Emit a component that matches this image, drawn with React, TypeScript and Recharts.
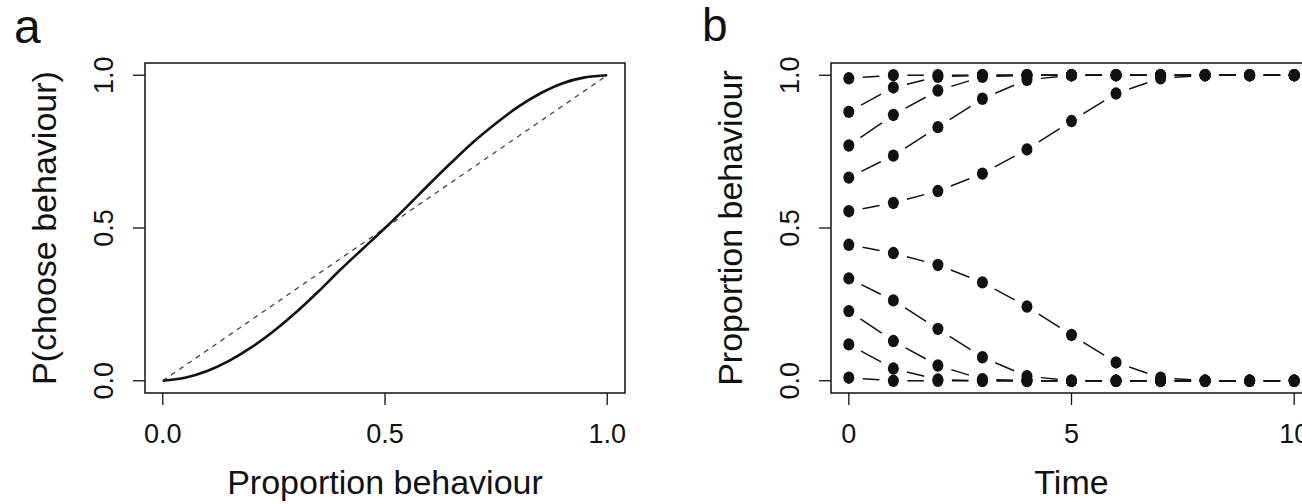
import React from 'react';
import { ComposedChart, Line, Scatter, XAxis, YAxis, ReferenceArea, Label } from 'recharts';

const FONT = "'Liberation Sans', Arial, Helvetica, sans-serif";

// panel a: conformist choice curve
const propX = [0, 0.05, 0.1, 0.15, 0.2, 0.25, 0.3, 0.35, 0.4, 0.45, 0.5, 0.55, 0.6, 0.65, 0.7, 0.75, 0.8, 0.85, 0.9, 0.95, 1];
const chooseP = [0, 0.01, 0.032, 0.066, 0.11, 0.163, 0.224, 0.292, 0.364, 0.432, 0.5, 0.571, 0.644, 0.715, 0.783, 0.843, 0.897, 0.941, 0.974, 0.993, 1];
const diagX = [0, 1];
const diagY = [0, 1];
const unitTicks = [0, 0.5, 1];

// panel b: trajectories over time
const timeSteps = [0, 1, 2, 3, 4, 5, 6, 7, 8, 9, 10];
const timeTicks = [0, 5, 10];
const run1 = [0.99, 1, 1, 1, 1, 1, 1, 1, 1, 1, 1];
const run2 = [0.88, 0.96, 0.995, 1, 1, 1, 1, 1, 1, 1, 1];
const run3 = [0.77, 0.87, 0.95, 0.995, 1, 1, 1, 1, 1, 1, 1];
const run4 = [0.665, 0.737, 0.83, 0.923, 0.985, 1, 1, 1, 1, 1, 1];
const run5 = [0.555, 0.582, 0.621, 0.678, 0.757, 0.85, 0.94, 0.99, 1, 1, 1];
const run6 = [0.445, 0.418, 0.379, 0.322, 0.243, 0.15, 0.06, 0.01, 0, 0, 0];
const run7 = [0.335, 0.263, 0.17, 0.077, 0.015, 0, 0, 0, 0, 0, 0];
const run8 = [0.228, 0.13, 0.05, 0.005, 0, 0, 0, 0, 0, 0, 0];
const run9 = [0.119, 0.04, 0.004, 0, 0, 0, 0, 0, 0, 0, 0];
const run10 = [0.01, 0, 0, 0, 0, 0, 0, 0, 0, 0, 0];
const runs = [run1, run2, run3, run4, run5, run6, run7, run8, run9, run10];

const curveData = propX.map((x, i) => ({ x, y: chooseP[i] }));
const diagData = diagX.map((x, i) => ({ x, y: diagY[i] }));
const runData = runs.map((r) => timeSteps.map((t, i) => ({ t, v: r[i] })));

const INK = '#111';
const GAP = 14;

const XTick = (props: any) => {
  const { x, y, payload, fmt } = props;
  return (
    <text x={x} y={y + 38} textAnchor="middle" fontSize={27} fill={INK} fontFamily={FONT}>
      {fmt(payload.value)}
    </text>
  );
};

const YTick = (props: any) => {
  const { x, y, payload } = props;
  const bx = x - 20;
  return (
    <text x={bx} y={y} transform={`rotate(-90 ${bx} ${y})`} textAnchor="middle" fontSize={27} fill={INK} fontFamily={FONT}>
      {payload.value.toFixed(1)}
    </text>
  );
};

const xTitle = (text: string) => (props: any) => {
  const vb = props.viewBox;
  return (
    <text x={vb.x + vb.width / 2} y={vb.y + 101} textAnchor="middle" fontSize={34} fill={INK} fontFamily={FONT}>
      {text}
    </text>
  );
};

const yTitle = (text: string) => (props: any) => {
  const vb = props.viewBox;
  const bx = vb.x + vb.width - 89;
  const cy = vb.y + vb.height / 2;
  return (
    <text x={bx} y={cy} transform={`rotate(-90 ${bx} ${cy})`} textAnchor="middle" fontSize={34} fill={INK} fontFamily={FONT}>
      {text}
    </text>
  );
};

// R type="b": segments between points, broken around each point
const gappedLine = (props: any) => {
  const pts = props.points || [];
  const segs: React.ReactNode[] = [];
  for (let i = 1; i < pts.length; i++) {
    const a = pts[i - 1];
    const b = pts[i];
    const dx = b.x - a.x;
    const dy = b.y - a.y;
    const len = Math.hypot(dx, dy);
    if (len <= 2 * GAP) continue;
    const ux = dx / len;
    const uy = dy / len;
    segs.push(
      <line key={i} x1={a.x + ux * GAP} y1={a.y + uy * GAP} x2={b.x - ux * GAP} y2={b.y - uy * GAP} stroke={INK} strokeWidth={1.5} />
    );
  }
  return <g>{segs}</g>;
};

const Dot = (props: any) => <ellipse cx={props.cx} cy={props.cy} rx={5.5} ry={6.2} fill={INK} />;

const PanelA = () => (
  <ComposedChart width={650} height={504} margin={{ top: 63, right: 25, bottom: 81, left: 85 }}>
    <XAxis
      dataKey="x"
      type="number"
      domain={[-0.04, 1.04]}
      ticks={unitTicks}
      interval={0}
      allowDataOverflow
      height={30}
      axisLine={false}
      tickSize={12}
      tickMargin={0}
      tickLine={{ stroke: INK, strokeWidth: 1.3 }}
      tick={(p: any) => <XTick {...p} fmt={(v: number) => v.toFixed(1)} />}
    >
      <Label content={xTitle('Proportion behaviour')} />
    </XAxis>
    <YAxis
      dataKey="y"
      type="number"
      domain={[-0.04, 1.04]}
      ticks={unitTicks}
      interval={0}
      allowDataOverflow
      width={60}
      axisLine={false}
      tickSize={12}
      tickMargin={0}
      tickLine={{ stroke: INK, strokeWidth: 1.3 }}
      tick={(p: any) => <YTick {...p} />}
    >
      <Label content={yTitle('P(choose behaviour)')} />
    </YAxis>
    <ReferenceArea x1={-0.04} x2={1.04} y1={-0.04} y2={1.04} fill="none" stroke={INK} strokeWidth={1.5} ifOverflow="visible" />
    <Line data={diagData} dataKey="y" type="linear" stroke="#444" strokeWidth={1.3} strokeDasharray="5 5" dot={false} activeDot={false} isAnimationActive={false} />
    <Line data={curveData} dataKey="y" type="monotone" stroke={INK} strokeWidth={2.6} dot={false} activeDot={false} isAnimationActive={false} />
  </ComposedChart>
);

const PanelB = () => (
  <ComposedChart width={700} height={504} margin={{ top: 63, right: 38, bottom: 81, left: 121 }}>
    <XAxis
      dataKey="t"
      type="number"
      domain={[-0.4, 10.4]}
      ticks={timeTicks}
      interval={0}
      allowDataOverflow
      height={30}
      axisLine={false}
      tickSize={12}
      tickMargin={0}
      tickLine={{ stroke: INK, strokeWidth: 1.3 }}
      tick={(p: any) => <XTick {...p} fmt={(v: number) => String(v)} />}
    >
      <Label content={xTitle('Time')} />
    </XAxis>
    <YAxis
      dataKey="v"
      type="number"
      domain={[-0.04, 1.04]}
      ticks={unitTicks}
      interval={0}
      allowDataOverflow
      width={60}
      axisLine={false}
      tickSize={12}
      tickMargin={0}
      tickLine={{ stroke: INK, strokeWidth: 1.3 }}
      tick={(p: any) => <YTick {...p} />}
    >
      <Label content={yTitle('Proportion behaviour')} />
    </YAxis>
    <ReferenceArea x1={-0.4} x2={10.4} y1={-0.04} y2={1.04} fill="none" stroke={INK} strokeWidth={1.5} ifOverflow="visible" />
    {runData.map((d, i) => (
      <Scatter key={i} data={d} fill={INK} line={gappedLine} lineType="joint" shape={Dot} isAnimationActive={false} />
    ))}
  </ComposedChart>
);

export default function App() {
  return (
    <div style={{ position: 'absolute', left: 0, top: 0, width: 1302, height: 504, overflow: 'hidden', background: '#fff', fontFamily: FONT }}>
      <div style={{ position: 'absolute', left: 0, top: 0 }}>
        <PanelA />
      </div>
      <div style={{ position: 'absolute', left: 650, top: 0 }}>
        <PanelB />
      </div>
      <div style={{ position: 'absolute', left: 14, top: 3, fontSize: 48, color: INK, lineHeight: '48px', fontFamily: FONT }}>a</div>
      <div style={{ position: 'absolute', left: 702, top: 2, fontSize: 46, color: INK, lineHeight: '46px', fontFamily: FONT }}>b</div>
    </div>
  );
}
